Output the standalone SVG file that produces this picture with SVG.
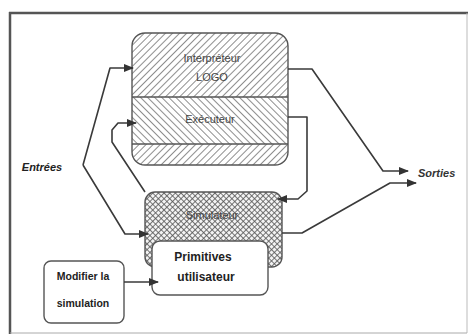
<svg xmlns="http://www.w3.org/2000/svg" width="469" height="336" viewBox="0 0 469 336">
<style>
.conn{fill:none;stroke:#3a3a3a;stroke-width:1.6;stroke-linejoin:round}
.lbl{font-family:"Liberation Sans",Arial,sans-serif;font-size:11px;fill:#444;text-anchor:middle}
.bold{font-family:"Liberation Sans",Arial,sans-serif;font-weight:bold;fill:#222;text-anchor:middle}
.box{stroke:#555;stroke-width:1.4}
</style>
<defs>
<pattern id="hf" width="5" height="5" patternUnits="userSpaceOnUse" patternTransform="rotate(45)">
<rect width="5" height="5" fill="#fff"/><line x1="0" y1="0" x2="0" y2="5" stroke="#7a7a7a" stroke-width="1.7"/>
</pattern>
<pattern id="hb" width="5" height="5" patternUnits="userSpaceOnUse" patternTransform="rotate(-45)">
<rect width="5" height="5" fill="#fff"/><line x1="0" y1="0" x2="0" y2="5" stroke="#7a7a7a" stroke-width="1.7"/>
</pattern>
<pattern id="cross" width="4" height="4" patternUnits="userSpaceOnUse" patternTransform="rotate(45)">
<rect width="4" height="4" fill="#f4f4f4"/><line x1="0" y1="0" x2="0" y2="4" stroke="#555" stroke-width="1.6"/><line x1="0" y1="0" x2="4" y2="0" stroke="#555" stroke-width="1.6"/>
</pattern>
<clipPath id="ic"><rect x="132" y="33" width="156" height="132" rx="13"/></clipPath>
<marker id="ah" markerWidth="10" markerHeight="8" refX="9" refY="4" orient="auto" markerUnits="userSpaceOnUse">
<path d="M0,0 L10,4 L0,8 z" fill="#333"/>
</marker>
</defs>
<rect width="469" height="336" fill="#fff"/>
<g id="frame">
<line x1="9" y1="13" x2="468" y2="13" stroke="#555" stroke-width="2.5"/>
<line x1="10" y1="12" x2="10" y2="334" stroke="#555" stroke-width="2.5"/>
<line x1="467" y1="13" x2="467" y2="333" stroke="#bbb" stroke-width="1"/>
<line x1="10" y1="333" x2="467" y2="333" stroke="#aaa" stroke-width="1"/>
</g>
<g id="interpreteur">
<g clip-path="url(#ic)">
<rect x="132" y="33" width="156" height="64" fill="url(#hf)"/>
<rect x="132" y="97" width="156" height="47" fill="url(#hb)"/>
<rect x="132" y="144" width="156" height="21" fill="url(#hf)"/>
</g>
<rect x="132" y="33" width="156" height="132" rx="13" fill="none" class="box"/>
<line x1="132" y1="97" x2="288" y2="97" stroke="#555" stroke-width="1.4"/>
<line x1="132" y1="144" x2="288" y2="144" stroke="#555" stroke-width="1.4"/>
<text class="lbl" x="212" y="62">Interpréteur</text>
<text class="lbl" x="212" y="81">LOGO</text>
</g>
<g id="executeur">
<text class="lbl" x="210" y="123">Exécuteur</text>
</g>
<g id="simulateur">
<rect x="145" y="192" width="137" height="75" rx="10" fill="url(#cross)" class="box"/>
<text class="lbl" x="212" y="219">Simulateur</text>
</g>
<g id="primitives">
<rect x="152" y="241" width="116" height="54" rx="8" fill="#fff" class="box"/>
<text class="bold" x="203" y="261" font-size="12">Primitives</text>
<text class="bold" x="206" y="281" font-size="12">utilisateur</text>
</g>
<g id="modifier">
<rect x="44" y="261" width="80" height="62" rx="7" fill="#fff" class="box"/>
<text class="bold" x="83" y="280" font-size="10.5">Modifier la</text>
<text class="bold" x="83" y="307" font-size="10.5">simulation</text>
</g>
<g id="entrees">
<text x="42" y="171" font-family="'Liberation Sans',Arial,sans-serif" font-size="11" font-weight="bold" font-style="italic" fill="#222" text-anchor="middle">Entrées</text>
</g>
<g id="sorties">
<text x="418" y="177" font-family="'Liberation Sans',Arial,sans-serif" font-size="11" font-weight="bold" font-style="italic" fill="#333">Sorties</text>
</g>
<g id="connectors">
<path class="conn" d="M83,165 L110,68 L133,68" marker-end="url(#ah)"/>
<path class="conn" d="M83,165 L125,234 L148,234" marker-end="url(#ah)"/>
<path class="conn" d="M145,192 L112,142 L112,130 L118,123 L136,123" marker-end="url(#ah)"/>
<path class="conn" d="M288,117 L307,117 L307,191 L298,199 L278,199" marker-end="url(#ah)"/>
<path class="conn" d="M288,69 L312,69 L383,171 L408,171" marker-end="url(#ah)"/>
<path class="conn" d="M282,233 L302,233 L390,183 L416,183" marker-end="url(#ah)"/>
<path class="conn" d="M124,282 L158,282" marker-end="url(#ah)"/>
</g>
</svg>
